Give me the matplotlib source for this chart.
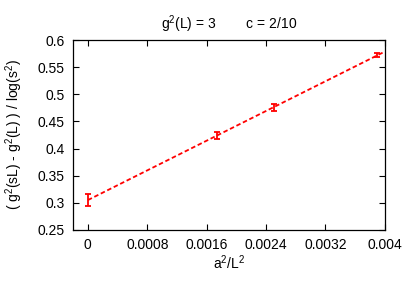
import numpy as np
import matplotlib.pyplot as plt

plt.rcParams['font.family'] = ['Liberation Sans', 'DejaVu Sans']
plt.rcParams['mathtext.fontset'] = 'custom'
plt.rcParams['mathtext.rm'] = 'Liberation Sans'

# data
x = np.array([0.0, 0.001734, 0.002505, 0.0039])
y = np.array([0.305, 0.424, 0.476, 0.572])
err = np.array([0.011, 0.006, 0.006, 0.004])

xticks = [0, 0.0008, 0.0016, 0.0024, 0.0032, 0.004]
xticklabels = ['0', '0.0008', '0.0016', '0.0024', '0.0032', '0.004']
yticks = [0.25, 0.3, 0.35, 0.4, 0.45, 0.5, 0.55, 0.6]
yticklabels = ['0.25', '0.3', '0.35', '0.4', '0.45', '0.5', '0.55', '0.6']

fig = plt.figure(figsize=(4.09, 2.86), dpi=100)
ax = fig.add_axes([0.1785, 0.196, 0.7625, 0.664])

# weighted linear fit, drawn from 0 to 0.004
p = np.polyfit(x, y, 1, w=1 / err)
xf = np.array([0, 0.004])
ax.plot(xf, np.polyval(p, xf), color='red', ls=(0, (2.5, 1.5)), lw=1.3)

ax.errorbar(x, y, yerr=err, fmt='none', ecolor='red', elinewidth=1.3,
            capsize=2.5, capthick=1.3)

ax.set_xlim(-0.0002, 0.004)
ax.set_ylim(0.25, 0.6)
ax.set_xticks(xticks)
ax.set_xticklabels(xticklabels)
ax.set_yticks(yticks)
ax.set_yticklabels(yticklabels)
ax.tick_params(direction='in', top=True, right=True, length=4, labelsize=10,
               width=0.8, pad=6)
for s in ax.spines.values():
    s.set_linewidth(0.9)

ax.set_xlabel(r'a$^2$/L$^2$', fontsize=10, labelpad=1)
ax.set_ylabel(r'( g$^2$(sL) - g$^2$(L) ) / log(s$^2$)', fontsize=10, labelpad=9)
ax.set_title(r'g$^2$(L) = 3        c = 2/10', fontsize=10, pad=8)

fig.savefig('out.png', dpi=100)
